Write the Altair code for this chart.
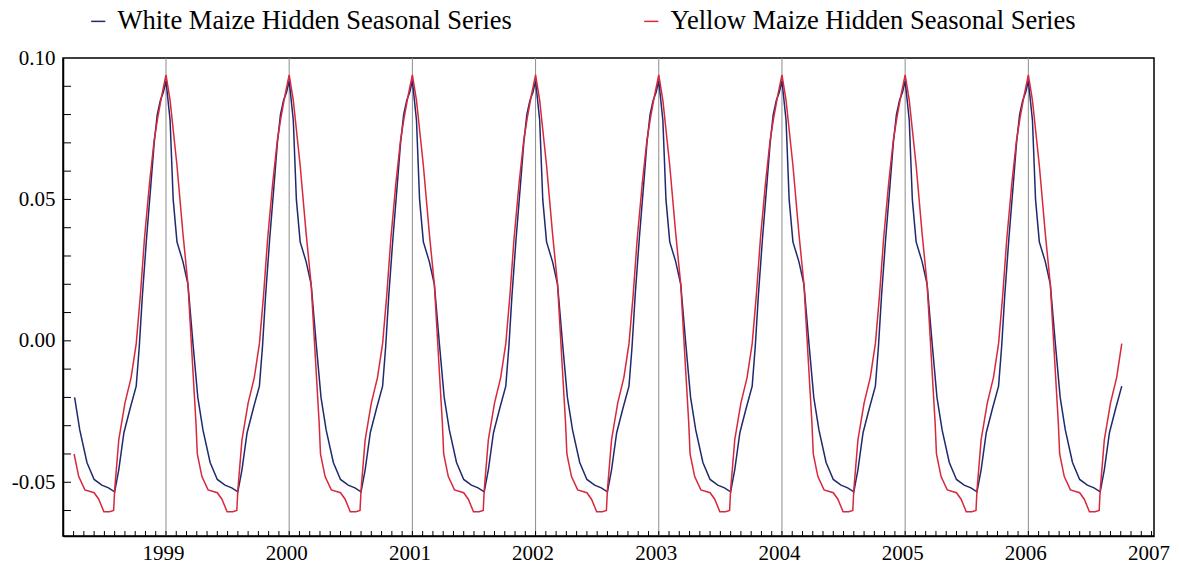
import altair as alt
import pandas as pd

SERIES = ["White Maize Hidden Seasonal Series", "Yellow Maize Hidden Seasonal Series"]
COLORS = ["#1f2a6e", "#d8283c"]

# One seasonal cycle: months after 1 January, value
WHITE_MONTHS = [0.0, 0.4, 0.7, 1.07, 1.65, 2.14, 2.63, 3.1, 3.6, 4.3, 5.0, 5.75, 6.4,
                7.0, 7.4, 7.9, 8.5, 9.1, 9.4, 9.7, 10.1, 10.5, 10.85, 11.15, 11.45, 11.75]
WHITE_VALUES = [0.092, 0.078, 0.050, 0.035, 0.028, 0.020, -0.001, -0.020, -0.0315, -0.043,
                -0.049, -0.051, -0.052, -0.0534, -0.0456, -0.0325, -0.024, -0.016, -0.002,
                0.016, 0.036, 0.054, 0.070, 0.080, 0.085, 0.088]

YELLOW_MONTHS = [0.0, 0.4, 1.07, 1.65, 2.14, 2.63, 2.92, 3.05, 3.5, 4.1, 5.0, 5.45, 5.95,
                 6.5, 6.9, 7.0, 7.4, 8.0, 8.6, 9.1, 9.5, 9.9, 10.4, 10.85, 11.2, 11.6]
YELLOW_VALUES = [0.094, 0.085, 0.062, 0.038, 0.020, -0.011, -0.029, -0.040, -0.048, -0.0527,
                 -0.0537, -0.056, -0.0604, -0.0604, -0.060, -0.0527, -0.035, -0.022, -0.013,
                 -0.001, 0.016, 0.036, 0.056, 0.071, 0.079, 0.087]

YEARS = list(range(1998, 2007))
START = 1998 + 3.0 / 12
END = 2006 + 9.12 / 12

X_LABELS = [1999, 2000, 2001, 2002, 2003, 2004, 2005, 2006, 2007]
GRID_YEARS = [1999, 2000, 2001, 2002, 2003, 2004, 2005, 2006]
Y_LABELS = [-0.05, 0.0, 0.05, 0.10]
Y_MINOR = [-0.06, -0.05, -0.04, -0.03, -0.02, -0.01, 0.0, 0.01, 0.02, 0.03, 0.04,
           0.05, 0.06, 0.07, 0.08, 0.09]
MONTH_TICKS = [1998 + k / 12 for k in range(2, 12 * 9 + 1)]

rows = []
for name, months, values in [(SERIES[0], WHITE_MONTHS, WHITE_VALUES),
                             (SERIES[1], YELLOW_MONTHS, YELLOW_VALUES)]:
    for yr in YEARS:
        for m, v in zip(months, values):
            t = yr + m / 12
            if START - 1e-9 <= t <= END + 1e-9:
                rows.append({"t": t, "v": v, "series": name})
df = pd.DataFrame(rows)

W, H = 1091, 478
FONT = "Liberation Serif"

xs = alt.Scale(domain=[1998.164, 2007.02], nice=False, zero=False)
ys = alt.Scale(domain=[-0.069, 0.10], nice=False, zero=False)

xaxis = alt.Axis(values=X_LABELS, format="d", ticks=False, grid=False, domainColor="black",
                 domainWidth=1.5, labelFont=FONT, labelFontSize=21, labelColor="black",
                 labelPadding=6, labelOffset=-3, labelFlush=False, title=None)
yaxis = alt.Axis(values=Y_LABELS, ticks=False, grid=False, domainColor="black", domainWidth=1.5,
                 labelFont=FONT, labelFontSize=21, labelColor="black", labelPadding=8,
                 labelExpr="datum.value < 0 ? '-' + format(-datum.value, '.2f') : format(datum.value, '.2f')",
                 title=None)

grid = alt.Chart(pd.DataFrame({"t": GRID_YEARS})).mark_rule(color="#8c8c8c", strokeWidth=1).encode(
    x=alt.X("t:Q", scale=xs, axis=xaxis),
    y=alt.value(0), y2=alt.value(H))

xticks = alt.Chart(pd.DataFrame({"t": MONTH_TICKS})).mark_rule(color="black", strokeWidth=1).encode(
    x=alt.X("t:Q", scale=xs, axis=xaxis),
    y=alt.value(H), y2=alt.value(H - 5))

yticks = alt.Chart(pd.DataFrame({"v": Y_MINOR})).mark_rule(color="black", strokeWidth=1).encode(
    y=alt.Y("v:Q", scale=ys, axis=yaxis),
    x=alt.value(0), x2=alt.value(8))

lines = alt.Chart(df).mark_line(strokeWidth=1.5).encode(
    x=alt.X("t:Q", scale=xs, axis=xaxis),
    y=alt.Y("v:Q", scale=ys, axis=yaxis),
    color=alt.Color("series:N", scale=alt.Scale(domain=SERIES, range=COLORS),
                    legend=alt.Legend(title=None, orient="none", legendX=22, legendY=-50,
                                      direction="horizontal", symbolType="stroke",
                                      symbolSize=200, symbolStrokeWidth=1.5,
                                      labelFont=FONT, labelFontSize=26.5, labelColor="black",
                                      labelLimit=800, labelOffset=6, columnPadding=126,
                                      padding=0)),
    order=alt.Order("t:Q"))

chart = alt.layer(grid, xticks, yticks, lines).properties(
    width=W, height=H,
    autosize=alt.AutoSizeParams(type="none"),
    padding={"left": 63, "top": 58, "right": 25, "bottom": 33},
    background="white",
).configure_view(stroke="black", strokeWidth=1.5)

chart.save("out.html", embed_options={"renderer": "svg", "actions": False})
